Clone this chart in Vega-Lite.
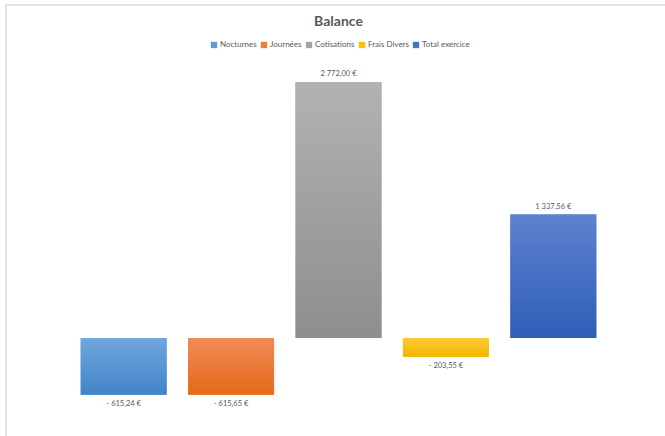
{
  "$schema": "https://vega.github.io/schema/vega-lite/v6.json",
  "width": 665,
  "height": 440,
  "autosize": {"type": "none"},
  "padding": {"left": 6, "top": 5, "right": 0, "bottom": 0},
  "background": "white",
  "title": {"text": "Balance", "font": "Lato", "fontSize": 14, "fontWeight": "bold", "color": "#595959", "anchor": "middle", "frame": "group", "offset": -24},
  "config": {"view": {"stroke": "#d9d9d9", "strokeWidth": 1.5}, "font": "Lato"},
  "data": {"values": [
    {"cat": "Nocturnes", "value": -615.24, "label": "- 615,24 €"},
    {"cat": "Journées", "value": -615.65, "label": "- 615,65 €"},
    {"cat": "Cotisations", "value": 2772.0, "label": "2 772,00 €"},
    {"cat": "Frais Divers", "value": -203.55, "label": "- 203,55 €"},
    {"cat": "Total exercice", "value": 1337.56, "label": "1 337,56 €"}
  ]},
  "encoding": {
    "x": {"field": "cat", "type": "nominal", "sort": null, "axis": null, "scale": {"paddingInner": 0.2, "paddingOuter": 0.6955}},
    "y": {"field": "value", "type": "quantitative", "axis": null, "scale": {"domain": [-1160, 3609], "nice": false, "zero": false}}
  },
  "layer": [
    {
      "mark": {"type": "bar"},
      "encoding": {
        "y2": {"datum": 0},
        "color": {
          "field": "cat", "type": "nominal", "sort": null,
          "scale": {"domain": ["Nocturnes", "Journées", "Cotisations", "Frais Divers", "Total exercice"], "range": ["#5B9BD5", "#ED7D31", "#A5A5A5", "#FFC000", "#4472C4"]},
          "legend": {"orient": "none", "legendX": 204, "legendY": 36, "direction": "horizontal", "title": null, "symbolType": "square", "symbolSize": 40, "symbolStrokeWidth": 0, "labelFontSize": 8, "labelFont": "Lato", "labelColor": "#595959", "columnPadding": 3, "labelOffset": 2}
        }
      }
    },
    {
      "mark": {"type": "bar"},
      "encoding": {
        "y2": {"datum": 0},
        "fill": {
          "condition": [
            {"test": "datum.cat === 'Nocturnes'", "value": {"gradient": "linear", "x1": 0, "y1": 0, "x2": 0, "y2": 1, "stops": [{"offset": 0, "color": "#71A6DE"}, {"offset": 1, "color": "#4284C8"}]}},
            {"test": "datum.cat === 'Journées'", "value": {"gradient": "linear", "x1": 0, "y1": 0, "x2": 0, "y2": 1, "stops": [{"offset": 0, "color": "#F08B55"}, {"offset": 1, "color": "#E6691A"}]}},
            {"test": "datum.cat === 'Cotisations'", "value": {"gradient": "linear", "x1": 0, "y1": 0, "x2": 0, "y2": 1, "stops": [{"offset": 0, "color": "#B2B2B2"}, {"offset": 1, "color": "#8E8E8E"}]}},
            {"test": "datum.cat === 'Frais Divers'", "value": {"gradient": "linear", "x1": 0, "y1": 0, "x2": 0, "y2": 1, "stops": [{"offset": 0, "color": "#FFC935"}, {"offset": 1, "color": "#F2B600"}]}}
          ],
          "value": {"gradient": "linear", "x1": 0, "y1": 0, "x2": 0, "y2": 1, "stops": [{"offset": 0, "color": "#5E82CE"}, {"offset": 1, "color": "#2E5EB8"}]}
        }
      }
    },
    {
      "transform": [{"filter": "datum.value >= 0"}],
      "mark": {"type": "text", "dy": -8, "fontSize": 7.5, "font": "Lato", "color": "#595959"},
      "encoding": {"text": {"field": "label"}}
    },
    {
      "transform": [{"filter": "datum.value < 0"}],
      "mark": {"type": "text", "dy": 9, "fontSize": 7.5, "font": "Lato", "color": "#595959"},
      "encoding": {"text": {"field": "label"}}
    }
  ]
}
